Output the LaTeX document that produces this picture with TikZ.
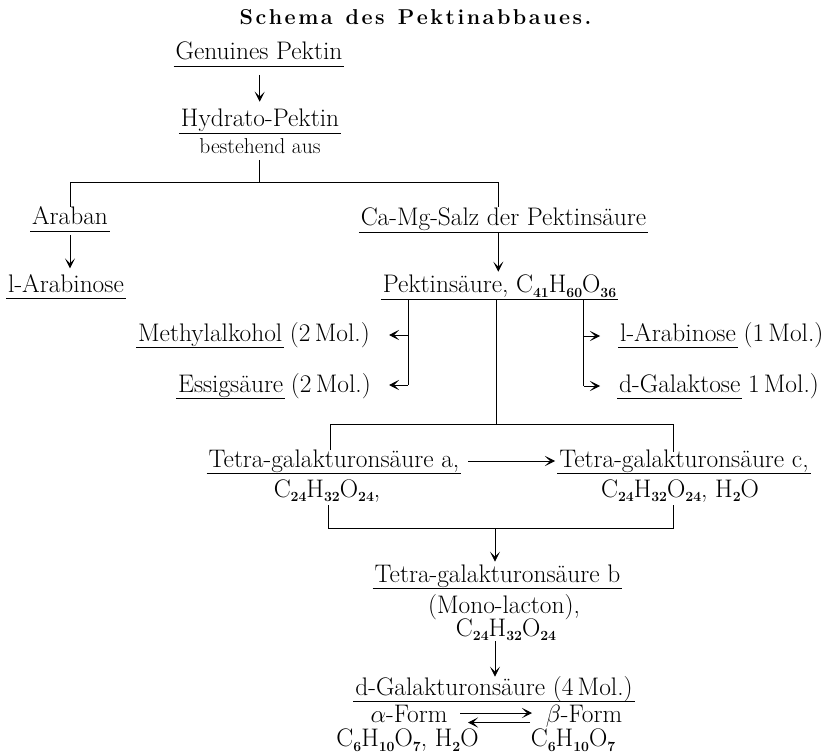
\documentclass[tikz,border=0pt]{standalone}
\usetikzlibrary{arrows.meta}
\newsavebox\ulbox
\newcommand\ulu[1]{\sbox\ulbox{#1}\makebox[0pt][l]{\kern-2pt\rule[-7pt]{\dimexpr\wd\ulbox+4pt\relax}{0.9pt}}\usebox\ulbox}
\newcommand\bigf{\fontsize{25.4}{30}\selectfont}
\newcommand\smallf{\fontsize{21.5}{25}\selectfont}
\newcommand\titlef{\fontsize{21.5}{24}\selectfont\bfseries}
\newcommand\sub[1]{\raisebox{-4.5pt}{\fontsize{14}{14}\selectfont\bfseries #1}}
\newcommand\ls{\kern2.5pt}
\begin{document}
\begin{tikzpicture}[x=1pt,y=-1pt,
  lbl/.style={font=\bigf, inner sep=0pt, anchor=base},
  conn/.style={line width=0.8pt},
  arr/.style={conn, -{Stealth[length=10pt,width=10pt,inset=5pt]}}]
\useasboundingbox (0,0) rectangle (825,754);

% title
\node[lbl, font=\titlef] (title) at (415.5,25) {S\ls c\ls h\ls e\ls m\ls a\ls\ \ls d\ls e\ls s\ls\ \ls P\ls e\ls k\ls t\ls i\ls n\ls a\ls b\ls b\ls a\ls u\ls e\ls s\ls .};

% nodes
\node[lbl] (gen) at (259,60) {\ulu{Genuines\ Pektin}};
\node[lbl] (hyd) at (260,127) {\ulu{Hydrato-Pektin}};
\node[lbl, font=\smallf] (best) at (260,154) {bestehend aus};
\node[lbl] (araban) at (70,225) {\ulu{Araban}};
\node[lbl] (larab) at (66,292) {\ulu{l-Arabinose}};
\node[lbl] (camg) at (503.5,226) {\ulu{Ca-Mg-Salz der Pektinsäure}};
\node[lbl] (pekt) at (499.5,293) {\ulu{Pektinsäure, C\sub{41}H\sub{60}O\sub{36}}};
\node[lbl, anchor=base east] (methyl) at (370,341) {\ulu{Methylalkohol} (2\,Mol.)};
\node[lbl, anchor=base east] (essig) at (371,392) {\ulu{Essigsäure} (2\,Mol.)};
\node[lbl, anchor=base west] (arab1) at (620,341) {\ulu{l-Arabinose} (1\,Mol.)};
\node[lbl, anchor=base west] (galak) at (619,392) {\ulu{d-Galaktose} 1\,Mol.)};
\node[lbl] (ta) at (334,467) {\ulu{Tetra-galakturonsäure a,}};
\node[lbl] (tc) at (684,467) {\ulu{Tetra-galakturonsäure c,}};
\node[lbl] (taf) at (327,497) {C\sub{24}H\sub{32}O\sub{24},};
\node[lbl] (tcf) at (680,497) {C\sub{24}H\sub{32}O\sub{24}, H\sub{2}O};
\node[lbl] (tb) at (497.5,582) {\ulu{Tetra-galakturonsäure b}};
\node[lbl] (mono) at (504,613) {(Mono-lacton),};
\node[lbl] (tbf) at (506,636) {C\sub{24}H\sub{32}O\sub{24}};
\node[lbl] (dgal) at (494,695) {\ulu{d-Galakturonsäure (4\,Mol.)}};
\node[lbl] (alpha) at (409,722) {$\alpha$-Form};
\node[lbl] (beta) at (584,722) {$\beta$-Form};
\node[lbl] (alphaf) at (407.5,746.5) {C\sub{6}H\sub{10}O\sub{7}, H\sub{2}O};
\node[lbl] (betaf) at (573,746.5) {C\sub{6}H\sub{10}O\sub{7}};

% coordinates
\coordinate (g1) at (259.7,75);   \coordinate (g2) at (259.7,101.7);
\coordinate (b1) at (259.7,160);  \coordinate (b2) at (259.7,182.7);
\coordinate (hl) at (70,182.7);   \coordinate (hr) at (498.3,182.7);
\coordinate (hl2) at (70,206.7);  \coordinate (hr2) at (498.3,206.7);
\coordinate (a1) at (70,235);     \coordinate (a2) at (70,268.3);
\coordinate (c1) at (498.3,233.3); \coordinate (c2) at (498.3,271.7);
\coordinate (pl1) at (408,299.3); \coordinate (pl2) at (408,385);
\coordinate (pm1) at (496.7,299.3); \coordinate (pm2) at (496.7,424);
\coordinate (pr1) at (583.5,299.3); \coordinate (pr2) at (583.5,386);
\coordinate (ml) at (408,335);    \coordinate (mt) at (389,335);
\coordinate (et) at (389,385);
\coordinate (ar) at (583.5,336);  \coordinate (art) at (600,336);
\coordinate (gt) at (600,386);
\coordinate (tl) at (330,424);    \coordinate (tr) at (673,424);
\coordinate (tl2) at (330,450);   \coordinate (tr2) at (673,452);
\coordinate (ac1) at (468,461);   \coordinate (ac2) at (555,461);
\coordinate (bl1) at (328.5,505); \coordinate (bl2) at (328.5,528.3);
\coordinate (br1) at (673,505);   \coordinate (br2) at (673,528.3);
\coordinate (bm) at (495,528.3);  \coordinate (bm2) at (495,561.7);
\coordinate (d1) at (495,641);    \coordinate (d2) at (495,676.7);
\coordinate (e1) at (460,713);    \coordinate (e2) at (532,713);
\coordinate (e3) at (530,722.5);  \coordinate (e4) at (468,722.5);

% connectors
\draw[arr] (g1) -- (g2);
\draw[conn] (b1) -- (b2);
\draw[conn] (hl2) -- (hl) -- (hr) -- (hr2);
\draw[arr] (a1) -- (a2);
\draw[arr] (c1) -- (c2);
\draw[conn] (pl1) -- (pl2);
\draw[conn] (pm1) -- (pm2);
\draw[conn] (pr1) -- (pr2);
\draw[arr] (ml) -- (mt);
\draw[arr] (pl2) -- (et);
\draw[arr] (ar) -- (art);
\draw[arr] (pr2) -- (gt);
\draw[conn] (tl2) -- (tl) -- (tr) -- (tr2);
\draw[arr] (ac1) -- (ac2);
\draw[conn] (bl1) -- (bl2) -- (br2) -- (br1);
\draw[arr] (bm) -- (bm2);
\draw[arr] (d1) -- (d2);
\draw[arr] (e1) -- (e2);
\draw[arr] (e3) -- (e4);
\end{tikzpicture}
\end{document}
